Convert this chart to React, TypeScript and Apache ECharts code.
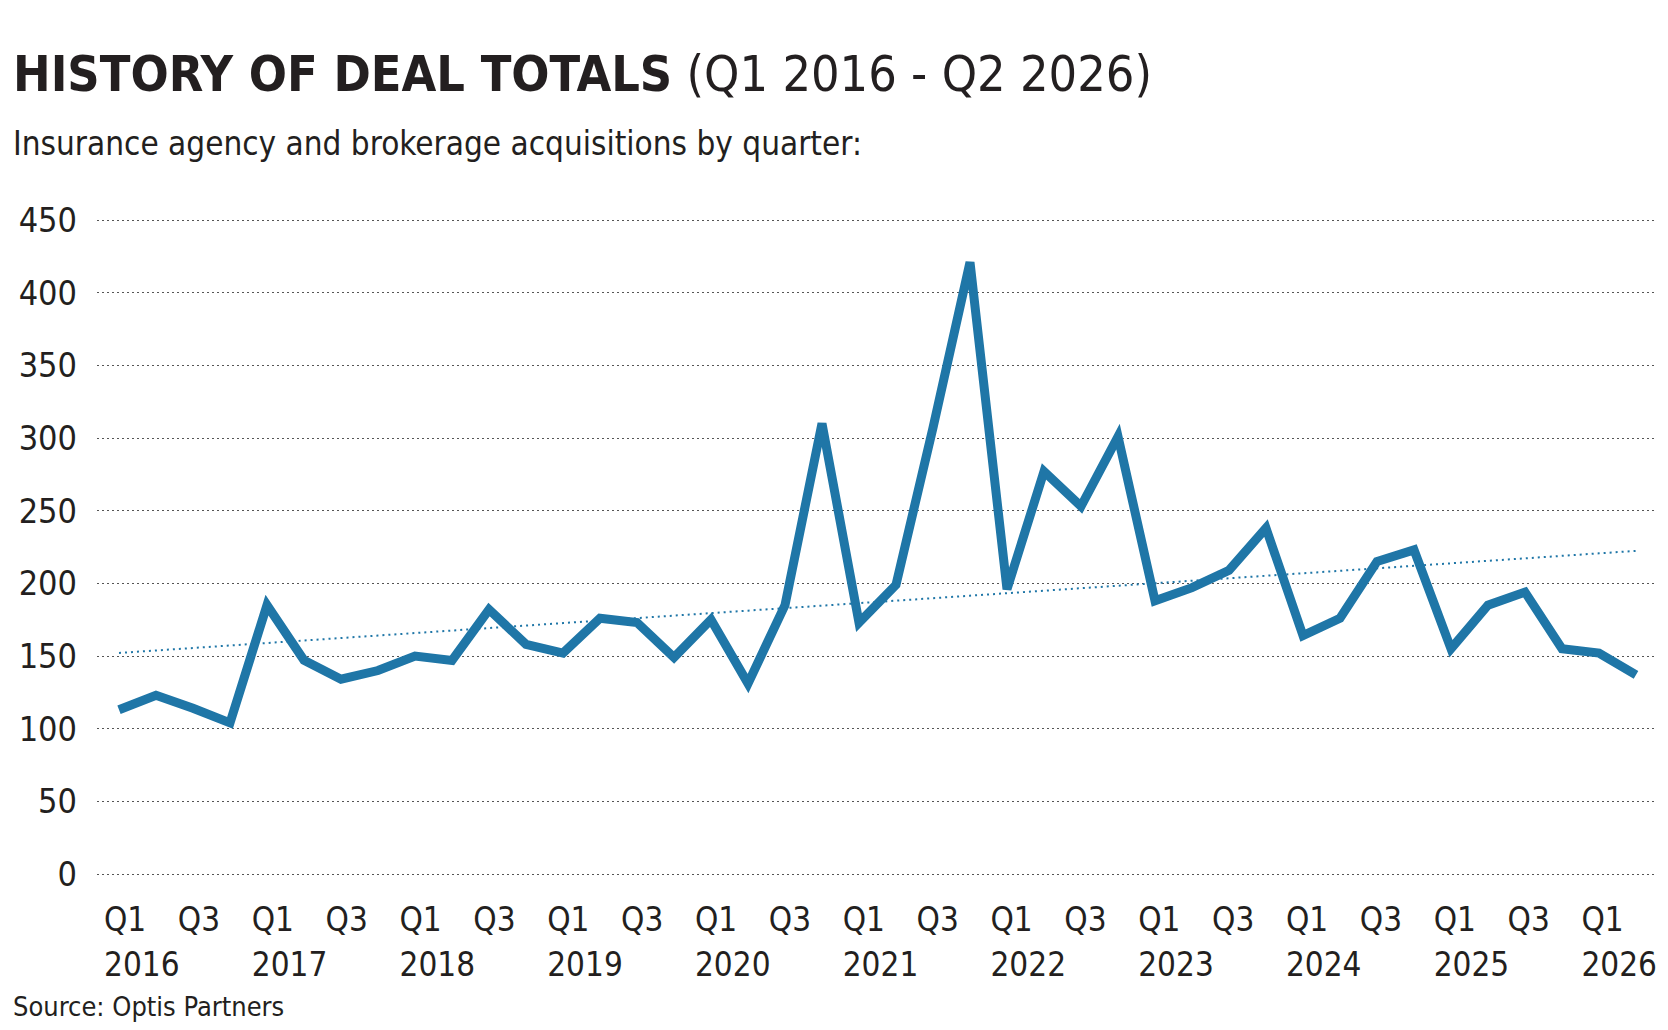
import React, { useEffect, useRef } from "react";
import * as echarts from "echarts";

const years = [2016, 2017, 2018, 2019, 2020, 2021, 2022, 2023, 2024, 2025, 2026];
const quarters = ["Q1", "Q2", "Q3", "Q4"];
const deals = [
  113, 123, 114, 104, 185, 147, 134, 140, 150, 147, 182, 158, 152, 176, 173, 149,
  175, 131, 185, 310, 173, 199, 307, 421, 196, 277, 253, 301, 188, 197, 209, 238,
  164, 176, 215, 223, 155, 185, 194, 155, 152, 137,
];
const yTicks = [0, 50, 100, 150, 200, 250, 300, 350, 400, 450];

const categories: string[] = [];
years.forEach((y) => quarters.forEach((q) => categories.push(q + " " + y)));
const cats = categories.slice(0, deals.length);

const FONT = "'DejaVu Sans Condensed', 'DejaVu Sans', sans-serif";
const INK = "#231f20";
const BLUE = "#1f76a7";

export default function App() {
  const ref = useRef<HTMLDivElement>(null);
  useEffect(() => {
    const chart = echarts.init(ref.current!, undefined, { renderer: "svg" });
    const n = deals.length;
    const mx = (n - 1) / 2;
    const my = deals.reduce((a, b) => a + b, 0) / n;
    let sxy = 0, sxx = 0;
    deals.forEach((v, i) => { sxy += (i - mx) * (v - my); sxx += (i - mx) * (i - mx); });
    const slope = sxy / sxx;
    const trend = deals.map((_, i) => my + slope * (i - mx));
    const top = 212, bottom = 1014 - 866;
    const yAx = (gi: number, show: boolean) => ({
      type: "value", gridIndex: gi, min: yTicks[0], max: yTicks[yTicks.length - 1], interval: 50,
      axisLine: { show: false }, axisTick: { show: false },
      axisLabel: { show, fontFamily: FONT, fontSize: 34, color: INK, margin: 20 },
      splitLine: { show, lineStyle: { type: [2, 3], color: "#555", width: 1 } },
    });
    chart.setOption({
      animation: false,
      title: [
        {
          text: "{b|HISTORY OF DEAL TOTALS}{n| (Q1 2016 - Q2 2026)}", left: 0, top: 36,
          textStyle: { rich: {
            b: { fontFamily: FONT, fontWeight: "bold", fontSize: 50, color: INK },
            n: { fontFamily: FONT, fontWeight: "normal", fontSize: 50, color: INK },
          } },
        },
        { text: "Insurance agency and brokerage acquisitions by quarter:", left: 0, top: 114,
          textStyle: { fontFamily: FONT, fontSize: 33, fontWeight: "normal", color: INK } },
        { text: "Source: Optis Partners", left: 0, top: 980,
          textStyle: { fontFamily: FONT, fontSize: 27, fontWeight: "normal", color: INK } },
      ],
      grid: [
        { left: 89, right: 5, top, bottom },
        { left: 111, right: 24, top, bottom },
        { left: 96, right: 39, top, bottom },
      ],
      xAxis: [
        { type: "category", gridIndex: 0, data: cats, show: false },
        { type: "category", gridIndex: 1, data: cats, boundaryGap: false, show: false },
        {
          type: "category", gridIndex: 2, data: cats, boundaryGap: false,
          axisLine: { show: false }, axisTick: { show: false },
          axisLabel: {
            interval: 0, align: "left", margin: 23, fontFamily: FONT, fontSize: 33,
            color: INK, lineHeight: 45,
            formatter: (v: string, i: number) => {
              const [q, y] = v.split(" ");
              if (i % 4 === 0) return q + "\n" + y;
              if (i % 4 === 2) return q;
              return "";
            },
          },
        },
      ],
      yAxis: [yAx(0, true), yAx(1, false), yAx(2, false)],
      series: [
        {
          type: "line", xAxisIndex: 1, yAxisIndex: 1, data: trend, symbol: "none",
          lineStyle: { color: BLUE, width: 2, type: [2, 4] },
        },
        {
          type: "line", xAxisIndex: 1, yAxisIndex: 1, data: deals, symbol: "none",
          lineStyle: { color: BLUE, width: 9, join: "miter" },
        },
      ],
    });
    return () => chart.dispose();
  }, []);
  return <div ref={ref} style={{ width: 1652, height: 1014 }} />;
}
